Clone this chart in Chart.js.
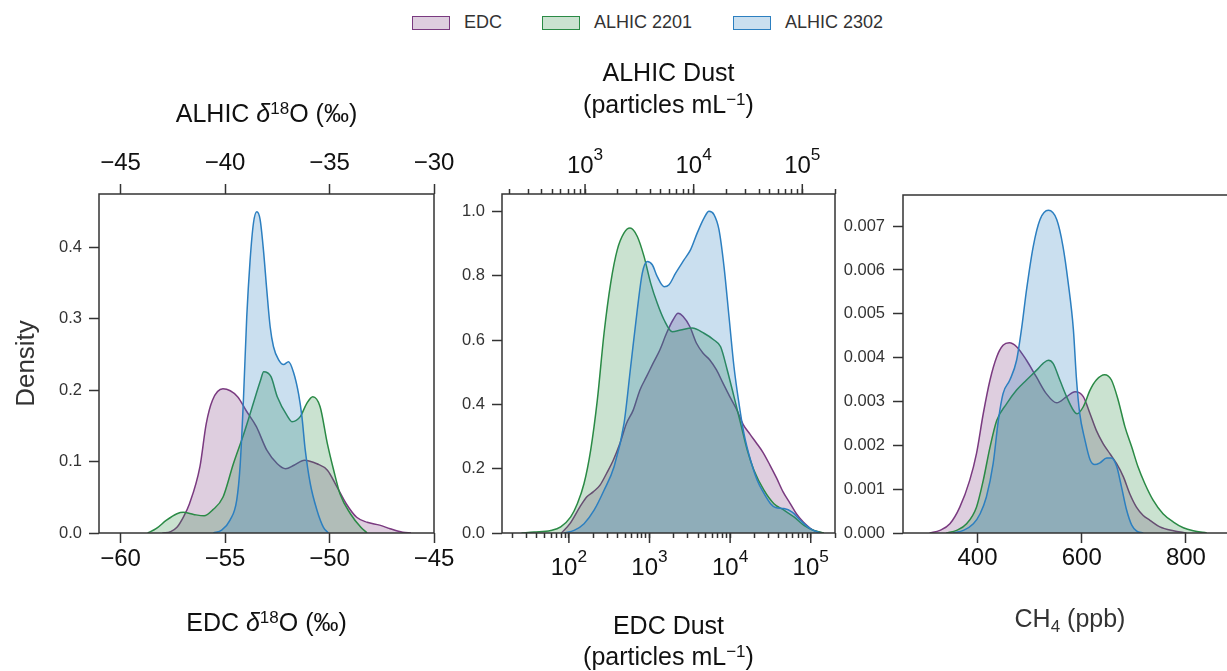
<!DOCTYPE html>
<html>
<head>
  <meta charset="UTF-8">
  <title>EDC / ALHIC density comparison</title>
  <script src="https://cdn.jsdelivr.net/npm/chart.js"></script>
  <style>
    html, body { margin: 0; padding: 0; background: #fff; overflow: hidden; }
    body { width: 1227px; height: 671px; position: relative; font-family: "Liberation Sans", Arial, sans-serif; }
    canvas { position: absolute; top: 0; }
    .item { position: absolute; top: 12px; height: 21px; display: flex; align-items: center; font-size: 18px; color: #333; }
    .box { width: 36px; height: 12px; border: 1.5px solid; margin-right: 14px; }
  </style>
</head>
<body>
  <div id="legend"></div>
  <canvas id="c1" width="470" height="671" style="left:0"></canvas>
  <canvas id="c2" width="420" height="671" style="left:440px"></canvas>
  <canvas id="c3" width="420" height="671" style="left:840px"></canvas>

  <script>
    // --- series names ---
    const seriesNames = ['EDC', 'ALHIC 2201', 'ALHIC 2302'];

    // --- panel 1: d18O (EDC on bottom axis, ALHIC on top axis) ---
    const edcIsoX = [-58.0, -57.6, -57.3, -57.0, -56.7, -56.2, -55.9, -55.6, -55.1, -54.4, -54.0, -53.5, -53.0, -52.5, -52.1, -51.7, -51.2, -50.6, -50.1, -49.65, -49.2, -48.7, -48.2, -47.6, -47.1, -46.5, -46.1];
    const edcIsoY = [0.000, 0.002, 0.008, 0.022, 0.041, 0.093, 0.153, 0.186, 0.202, 0.191, 0.172, 0.149, 0.116, 0.097, 0.090, 0.095, 0.102, 0.097, 0.088, 0.065, 0.041, 0.022, 0.015, 0.011, 0.006, 0.001, 0.000];

    const a2201IsoX = [-43.7, -43.3, -42.8, -42.3, -42.0, -41.5, -41.0, -40.6, -40.1, -39.6, -39.1, -38.6, -38.3, -38.15, -37.8, -37.5, -37.0, -36.8, -36.4, -36.1, -35.8, -35.45, -35.1, -34.8, -34.5, -34.0, -33.5, -33.2];
    const a2201IsoY = [0.000, 0.006, 0.018, 0.027, 0.029, 0.026, 0.024, 0.032, 0.050, 0.097, 0.139, 0.186, 0.214, 0.226, 0.219, 0.191, 0.163, 0.156, 0.163, 0.181, 0.191, 0.177, 0.125, 0.088, 0.055, 0.027, 0.008, 0.000];

    const a2302IsoX = [-40.56, -40.16, -39.76, -39.44, -39.28, -39.12, -38.96, -38.80, -38.64, -38.48, -38.32, -38.16, -38.00, -37.84, -37.68, -37.44, -37.20, -36.96, -36.72, -36.48, -36.32, -36.16, -35.92, -35.60, -35.29, -35.05];
    const a2302IsoY = [0.000, 0.004, 0.018, 0.046, 0.093, 0.186, 0.303, 0.382, 0.434, 0.450, 0.439, 0.396, 0.340, 0.289, 0.261, 0.243, 0.236, 0.240, 0.225, 0.195, 0.163, 0.116, 0.069, 0.032, 0.008, 0.000];

    const edcIsoTicks = [-60, -55, -50, -45];
    const alhicIsoTicks = [-45, -40, -35, -30];
    const isoDensityTicks = [0, 0.1, 0.2, 0.3, 0.4];

    // --- panel 2: dust (log axes) ---
    const edcDustX = [81, 103, 137, 166, 200, 242, 293, 355, 429, 519, 628, 759, 918, 1109, 1343, 1626, 1963, 2265, 2612, 3162, 3828, 4624, 5598, 6776, 8185, 9908, 12000, 14490, 17540, 21180, 25650, 31050, 37500, 45390, 54950, 66370, 80350, 106900, 142200];
    const edcDustY = [0.000, 0.029, 0.081, 0.112, 0.128, 0.148, 0.185, 0.226, 0.278, 0.341, 0.382, 0.444, 0.486, 0.528, 0.569, 0.621, 0.663, 0.683, 0.673, 0.642, 0.590, 0.559, 0.538, 0.507, 0.465, 0.424, 0.385, 0.338, 0.308, 0.280, 0.250, 0.212, 0.172, 0.128, 0.094, 0.060, 0.035, 0.009, 0.000];

    const a2201DustX = [260, 340, 483, 597, 738, 849, 979, 1127, 1297, 1496, 1722, 1982, 2286, 2594, 3027, 3491, 4018, 4624, 5333, 6353, 7586, 9705, 12450, 15380, 17700, 20370, 23500, 27040, 31120, 35890, 44360, 54830, 67760, 83750, 103500, 127900, 158100];
    const a2201DustY = [0.000, 0.003, 0.008, 0.019, 0.050, 0.091, 0.154, 0.258, 0.413, 0.621, 0.777, 0.881, 0.933, 0.948, 0.922, 0.860, 0.777, 0.714, 0.663, 0.626, 0.631, 0.637, 0.621, 0.600, 0.579, 0.507, 0.424, 0.341, 0.258, 0.195, 0.133, 0.091, 0.071, 0.050, 0.024, 0.008, 0.000];

    const a2302DustX = [641, 793, 979, 1211, 1496, 1849, 2286, 2630, 3027, 3365, 3741, 4159, 4624, 5333, 5929, 6823, 8147, 9376, 10790, 12450, 13840, 15380, 17100, 19010, 21140, 23500, 26120, 29040, 33420, 38460, 44360, 51050, 56750, 67760, 80720, 96380, 119100, 147200];
    const a2302DustY = [0.000, 0.008, 0.029, 0.071, 0.133, 0.206, 0.341, 0.517, 0.694, 0.808, 0.844, 0.834, 0.797, 0.766, 0.772, 0.808, 0.849, 0.881, 0.933, 0.979, 1.000, 0.990, 0.943, 0.829, 0.673, 0.517, 0.403, 0.309, 0.226, 0.164, 0.123, 0.091, 0.079, 0.076, 0.065, 0.039, 0.013, 0.000];

    const dustDecades = [10, 100, 1000, 10000, 100000];
    const dustMinorSteps = [1, 2, 3, 4, 5, 6, 7, 8, 9];
    const dustLabelled = [100, 1000, 10000, 100000];
    const dustExponents = ['2', '3', '4', '5'];
    const dustDensityTicks = [0, 0.2, 0.4, 0.6, 0.8, 1.0];

    // --- panel 3: CH4 ---
    const edcCh4X = [308, 328, 347, 366, 385, 398, 411, 424, 437, 449, 461, 475, 494, 513, 532, 552, 571, 587, 603, 616, 628, 641, 654, 667, 680, 692, 705, 718, 731, 750, 776, 801];
    const edcCh4Y = [0.00000, 0.00006, 0.00021, 0.00059, 0.00120, 0.00181, 0.00272, 0.00349, 0.00402, 0.00428, 0.00434, 0.00425, 0.00394, 0.00356, 0.00318, 0.00297, 0.00311, 0.00322, 0.00311, 0.00272, 0.00234, 0.00204, 0.00181, 0.00158, 0.00128, 0.00090, 0.00059, 0.00040, 0.00029, 0.00014, 0.00005, 0.00000];

    const a2201Ch4X = [340, 360, 379, 398, 411, 424, 437, 456, 475, 494, 513, 526, 536, 545, 558, 571, 584, 591, 603, 616, 628, 644, 657, 670, 683, 696, 708, 721, 737, 756, 776, 795, 814, 840];
    const a2201Ch4Y = [0.00000, 0.00006, 0.00021, 0.00059, 0.00120, 0.00196, 0.00257, 0.00295, 0.00326, 0.00349, 0.00371, 0.00387, 0.00394, 0.00387, 0.00349, 0.00311, 0.00280, 0.00272, 0.00288, 0.00326, 0.00349, 0.00361, 0.00349, 0.00303, 0.00242, 0.00196, 0.00151, 0.00113, 0.00075, 0.00044, 0.00025, 0.00012, 0.00005, 0.00000];

    const a2302Ch4X = [353, 373, 392, 405, 417, 430, 440, 449, 462, 475, 485, 494, 507, 520, 536, 552, 564, 574, 584, 590, 596, 606, 616, 625, 635, 648, 657, 667, 676, 686, 696, 705, 718];
    const a2302Ch4Y = [0.00000, 0.00006, 0.00021, 0.00044, 0.00082, 0.00158, 0.00257, 0.00318, 0.00349, 0.00394, 0.00470, 0.00554, 0.00654, 0.00715, 0.00736, 0.00715, 0.00654, 0.00571, 0.00464, 0.00350, 0.00274, 0.00213, 0.00167, 0.00156, 0.00160, 0.00171, 0.00171, 0.00152, 0.00107, 0.00053, 0.00018, 0.00005, 0.00000];

    const ch4Ticks = [400, 600, 800];
    const ch4DensityTicks = [0, 0.001, 0.002, 0.003, 0.004, 0.005, 0.006, 0.007];

    // --- axis titles (pieces: plain, italic, superscript, subscript) ---
    const titleAlhicIso = [{ t: 'ALHIC ' }, { t: 'δ', it: true }, { t: '18', sup: true }, { t: 'O (‰)' }];
    const titleEdcIso = [{ t: 'EDC ' }, { t: 'δ', it: true }, { t: '18', sup: true }, { t: 'O (‰)' }];
    const titleParticles = [{ t: '(particles mL' }, { t: '\u22121', sup: true }, { t: ')' }];
    const titleAlhicDust = [{ t: 'ALHIC Dust' }];
    const titleEdcDust = [{ t: 'EDC Dust' }];
    const titleCh4 = [{ t: 'CH' }, { t: '4', sub: true }, { t: ' (ppb)' }];

    // --- styling ---
    const FONT = '"Liberation Sans", Arial, sans-serif';
    const AXIS = '#333';
    const COLORS = [
      { line: '#7a3a80', fill: 'rgba(122,58,128,0.25)' },
      { line: '#2a8a45', fill: 'rgba(42,138,69,0.25)' },
      { line: '#2c7fc0', fill: 'rgba(44,127,192,0.25)' }
    ];

    // legend (html)
    const legendLeft = [412, 542, 733];
    seriesNames.forEach((name, i) => {
      const d = document.createElement('div');
      d.className = 'item';
      d.style.left = legendLeft[i] + 'px';
      d.innerHTML = `<span class="box" style="border-color:${COLORS[i].line};background:${COLORS[i].fill}"></span>${name}`;
      document.getElementById('legend').appendChild(d);
    });

    const minus = v => (v < 0 ? '\u2212' + Math.abs(v) : String(v));

    // text with super/subscripts, centred on cx, baseline at y
    function drawRich(ctx, parts, cx, y, size, color, supScale, supRaise) {
      const segs = parts.map(p => {
        const s = (p.sup || p.sub) ? size * supScale : size;
        const font = (p.it ? 'italic ' : '') + s + 'px ' + FONT;
        ctx.font = font;
        return { t: p.t, font: font, w: ctx.measureText(p.t).width, dy: p.sup ? -size * supRaise : (p.sub ? size * 0.2 : 0) };
      });
      let x = cx - segs.reduce((a, s) => a + s.w, 0) / 2;
      ctx.save();
      ctx.fillStyle = color;
      ctx.textAlign = 'left';
      ctx.textBaseline = 'alphabetic';
      segs.forEach(s => { ctx.font = s.font; ctx.fillText(s.t, x, y + s.dy); x += s.w; });
      ctx.restore();
    }

    function richTitles(items) {
      return {
        id: 'richTitles',
        afterDraw(chart) {
          const a = chart.chartArea;
          items.forEach(it => drawRich(chart.ctx, it.parts, (a.left + a.right) / 2, it.y, 25, it.color || '#111', 0.68, 0.34));
        }
      };
    }

    function kde(i, xs, ys, xAxisID) {
      return {
        label: seriesNames[i],
        xAxisID: xAxisID,
        yAxisID: 'y',
        data: xs.map((x, k) => ({ x: x, y: ys[k] })),
        borderColor: COLORS[i].line,
        backgroundColor: COLORS[i].fill,
        borderWidth: 1.5,
        pointRadius: 0,
        fill: 'origin',
        cubicInterpolationMode: 'monotone'
      };
    }

    function setTicks(list) {
      return s => { s.ticks = list.map(v => ({ value: v })); };
    }

    function logTickList(min, max) {
      const out = [];
      dustDecades.forEach(d => dustMinorSteps.forEach(m => {
        const v = m * d;
        if (v >= min && v <= max) out.push(v);
      }));
      return out;
    }

    function xScale(pos, type, min, max, ticks, fmt, h, pad, tickLen) {
      return {
        type: type, position: pos, min: min, max: max, bounds: 'data',
        afterBuildTicks: setTicks(ticks),
        afterFit: s => { s.height = h; },
        ticks: { callback: fmt, font: { family: FONT, size: 24 }, color: '#111', padding: pad, maxRotation: 0, autoSkip: false },
        grid: { drawOnChartArea: false, tickLength: tickLen, tickWidth: 1.5, tickColor: AXIS },
        border: { display: false },
        title: { display: false }
      };
    }

    function yScale(max, ticks, digits, w, pad, title) {
      return {
        type: 'linear', position: 'left', min: 0, max: max, bounds: 'data',
        afterBuildTicks: setTicks(ticks),
        afterFit: s => { s.width = w; },
        ticks: { callback: v => v.toFixed(digits), font: { family: FONT, size: 16.5 }, color: '#333', padding: pad },
        grid: { drawOnChartArea: false, tickLength: 10, tickWidth: 1.5, tickColor: AXIS },
        border: { display: false },
        title: title || { display: false }
      };
    }

    // frame round the plot area
    const frame = {
      id: 'frame',
      afterDatasetsDraw(chart) {
        const { ctx, chartArea: a } = chart;
        ctx.save();
        ctx.strokeStyle = AXIS;
        ctx.lineWidth = 1.5;
        ctx.strokeRect(a.left, a.top, a.right - a.left, a.bottom - a.top);
        ctx.restore();
      }
    };

    // log axes: longer decade ticks and 10^n labels
    const decadeTicks = {
      id: 'decadeTicks',
      afterDraw(chart) {
        const ctx = chart.ctx;
        Object.values(chart.scales).forEach(s => {
          if (s.type !== 'logarithmic') return;
          const bottom = s.options.position === 'bottom';
          ctx.save();
          ctx.strokeStyle = AXIS;
          ctx.lineWidth = 1.5;
          dustDecades.forEach(v => {
            if (v < s.min || v > s.max) return;
            const px = s.getPixelForValue(v);
            ctx.beginPath();
            if (bottom) { ctx.moveTo(px, s.top); ctx.lineTo(px, s.top + 10); }
            else { ctx.moveTo(px, s.bottom); ctx.lineTo(px, s.bottom - 10); }
            ctx.stroke();
          });
          ctx.restore();
          dustLabelled.forEach((v, k) => {
            if (v < s.min || v > s.max) return;
            const px = s.getPixelForValue(v);
            const y = bottom ? s.top + 42 : s.bottom - 21;
            drawRich(ctx, [{ t: '10' }, { t: dustExponents[k], sup: true }], px, y, 24, '#111', 0.72, 0.55);
          });
        });
      }
    };

    const baseOptions = (padding, scales) => ({
      responsive: false,
      animation: false,
      layout: { padding: padding },
      plugins: { legend: { display: false }, tooltip: { enabled: false } },
      scales: scales
    });

    // panel 1
    new Chart(document.getElementById('c1'), {
      type: 'line',
      data: {
        datasets: [
          kde(2, a2302IsoX, a2302IsoY, 'x2'),
          kde(1, a2201IsoX, a2201IsoY, 'x2'),
          kde(0, edcIsoX, edcIsoY, 'x')
        ]
      },
      options: baseOptions({ left: 0, top: 0, right: 36, bottom: 0 }, {
        x: xScale('bottom', 'linear', -61.03, -45, edcIsoTicks, minus, 138, 2, 10),
        x2: xScale('top', 'linear', -46.03, -30, alhicIsoTicks, minus, 194, 6, 10),
        y: yScale(0.475, isoDensityTicks, 1, 99, 7,
          { display: true, text: 'Density', color: '#333', font: { family: FONT, size: 26 }, padding: { top: 11, bottom: 0 } })
      }),
      plugins: [frame, richTitles([{ parts: titleAlhicIso, y: 122 }, { parts: titleEdcIso, y: 631 }])]
    });

    // panel 2
    new Chart(document.getElementById('c2'), {
      type: 'line',
      data: {
        datasets: [
          kde(2, a2302DustX, a2302DustY, 'x2'),
          kde(1, a2201DustX, a2201DustY, 'x2'),
          kde(0, edcDustX, edcDustY, 'x')
        ]
      },
      options: baseOptions({ left: 0, top: 0, right: 25, bottom: 0 }, {
        x: xScale('bottom', 'logarithmic', 14.8, 200000, logTickList(14.8, 200000), () => '', 138, 14, 5),
        x2: xScale('top', 'logarithmic', 172, 200000, logTickList(172, 200000), () => '', 194, 10, 5),
        y: yScale(1.054, dustDensityTicks, 1, 62, 7)
      }),
      plugins: [frame, decadeTicks, richTitles([
        { parts: titleAlhicDust, y: 81 }, { parts: titleParticles, y: 113 },
        { parts: titleEdcDust, y: 634 }, { parts: titleParticles, y: 665 }
      ])]
    });

    // panel 3
    new Chart(document.getElementById('c3'), {
      type: 'line',
      data: {
        datasets: [
          kde(2, a2302Ch4X, a2302Ch4Y, 'x'),
          kde(1, a2201Ch4X, a2201Ch4Y, 'x'),
          kde(0, edcCh4X, edcCh4Y, 'x')
        ]
      },
      options: baseOptions({ left: 0, top: 195, right: 23, bottom: 0 }, {
        x: xScale('bottom', 'linear', 257, 898, ch4Ticks, v => String(v), 138, 1, 10),
        y: yScale(0.00771, ch4DensityTicks, 3, 63, 8)
      }),
      plugins: [frame, richTitles([{ parts: titleCh4, y: 627, color: '#333' }])]
    });
  </script>
</body>
</html>
